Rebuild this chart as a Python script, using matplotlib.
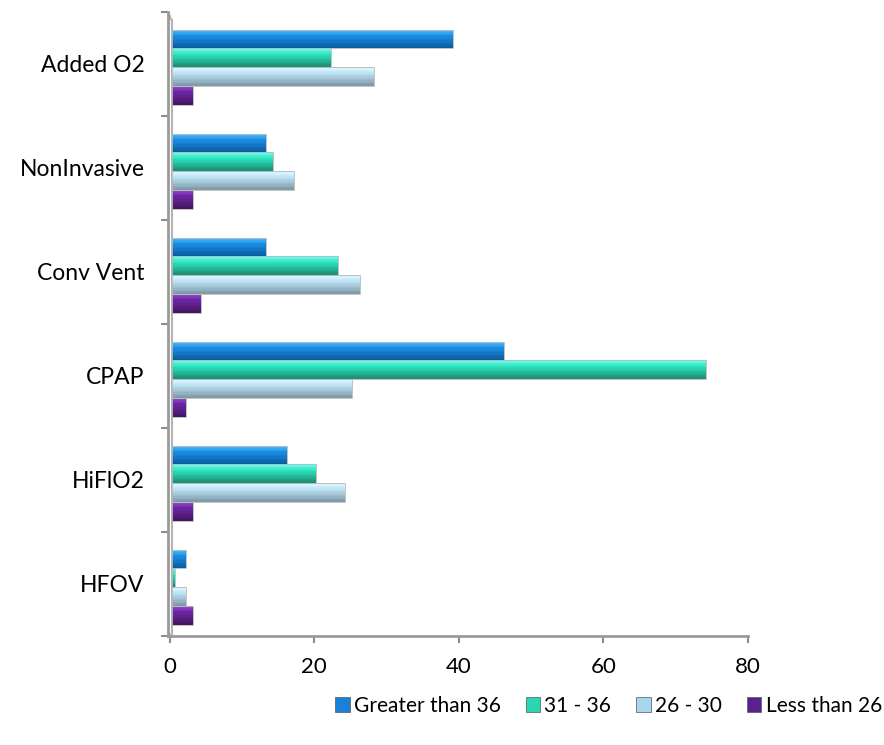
import numpy as np
import matplotlib
matplotlib.use("Agg")
import matplotlib.pyplot as plt
from matplotlib.colors import to_rgb
from matplotlib.patches import Patch

categories = ["HFOV", "HiFlO2", "CPAP", "Conv Vent", "NonInvasive", "Added O2"]
series_names = ["Greater than 36", "31 - 36", "26 - 30", "Less than 26"]
gt36 = [2, 16, 46, 13, 13, 39]
s31_36 = [0.5, 20, 74, 23, 14, 22]
s26_30 = [2, 24, 25, 26, 17, 28]
lt26 = [3, 3, 2, 4, 3, 3]
x_ticks = [0, 20, 40, 60, 80]

series_values = [gt36, s31_36, s26_30, lt26]
# (highlight, body, dark) colours for cylinder shading
palettes = [
    ("#5cc6ff", "#1a90e6", "#0b5a9c"),
    ("#6afff0", "#2ee6c0", "#178a6e"),
    ("#e6f8ff", "#bfe6f8", "#7d98a6"),
    ("#9a55d6", "#7028a8", "#421560"),
]
legend_colors = ["#1a80d8", "#2ad6b0", "#a8d6ec", "#5a2290"]

plt.rcParams['font.family'] = ['Lato', 'DejaVu Sans']

fig = plt.figure(figsize=(8.84, 7.45), dpi=100)
ax = fig.add_axes([168/884, 1-636/745, (748-168)/884, (636-12)/745])

y = np.arange(len(categories))
offsets = [0.24, 0.06, -0.12, -0.30]
bh = 0.18
nslices = 14

def shade(pal, t):
    hi, mid, lo = [np.array(to_rgb(c)) for c in pal]
    if t < 0.3:
        return tuple(hi + (mid - hi) * (t / 0.3))
    return tuple(mid + (lo - mid) * ((t - 0.3) / 0.7))

for vals, off, pal in zip(series_values, offsets, palettes):
    vals = np.array(vals, dtype=float)
    for k in range(nslices):
        t = (k + 0.5) / nslices
        ctr = y + off + bh / 2 - (k + 0.5) * bh / nslices
        ax.barh(ctr, vals, height=bh / nslices * 1.05, left=0.25,
                color=shade(pal, t), linewidth=0, zorder=3)
    ax.barh(y + off, vals, height=bh, left=0.25, facecolor='none',
            edgecolor='#b8b8b8', linewidth=0.6, zorder=4)

ax.set_xlim(-0.25, 80)
ax.set_ylim(-0.5, len(categories) - 0.5)
ax.set_xticks(x_ticks)
ax.set_xticklabels([str(v) for v in x_ticks], fontsize=16)
ax.set_yticks(y)
ax.set_yticklabels(categories, fontsize=16.5)
ax.set_yticks(np.arange(-0.5, len(categories)), minor=True)
ax.tick_params(axis='y', which='major', length=0, pad=17)
ax.tick_params(axis='y', which='minor', length=5, color='#8c8c8c', width=1.5)
ax.tick_params(axis='x', length=5, color='#8c8c8c', width=1.5, pad=10)

for s in ['top', 'right']:
    ax.spines[s].set_visible(False)
for s in ['left', 'bottom']:
    ax.spines[s].set_color('#9a9a9a')
    ax.spines[s].set_linewidth(2)
ax.plot([0.25, 0.25], [-0.48, 5.42], color='#b4b4b4', lw=1.5, zorder=2)
ax.plot([-0.25, 0.25], [5.5, 5.42], color='#b4b4b4', lw=1.5, zorder=2)
ax.plot([-0.25, 0.25], [-0.5, -0.48], color='#b4b4b4', lw=1.5, zorder=2)

handles = [Patch(facecolor=c, edgecolor='#555555', linewidth=0.5) for c in legend_colors]
fig.legend(handles, series_names, loc='center right', bbox_to_anchor=(1.0, 1-706/745),
           ncol=4, frameon=False, fontsize=15, handlelength=0.7, handleheight=0.7,
           handletextpad=0.2, columnspacing=1.2, borderpad=0.1, borderaxespad=0.0)

fig.savefig("out.png", dpi=100)
